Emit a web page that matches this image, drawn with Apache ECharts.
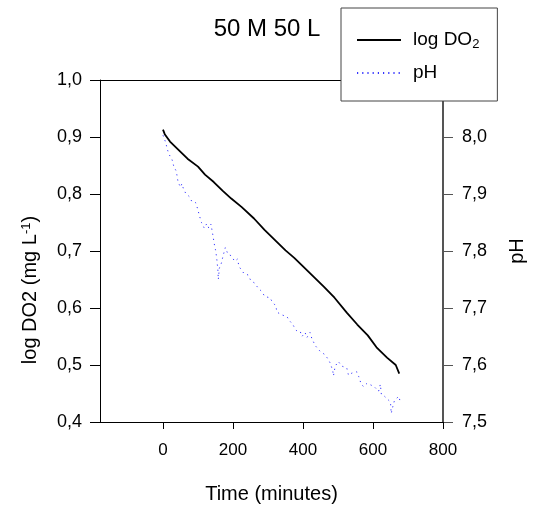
<!DOCTYPE html>
<html><head><meta charset="utf-8">
<script src="https://cdn.jsdelivr.net/npm/echarts@6/dist/echarts.min.js"></script>
<style>html,body{margin:0;padding:0;background:#fff}#c{width:536px;height:510px}</style>
</head><body><div id="c"></div>
<script>
const chartTitle = '50 M 50 L';
const xTicks = [0, 200, 400, 600, 800];
const doTime = [0,5,20,45,70,100,120,145,170,195,225,260,290,320,350,375,400,430,460,490,525,555,585,610,640,665,675];
const doValues = [0.913,0.905,0.892,0.877,0.862,0.848,0.834,0.821,0.806,0.792,0.777,0.757,0.737,0.719,0.701,0.688,0.673,0.655,0.637,0.618,0.592,0.571,0.552,0.531,0.513,0.500,0.485];
const phTime = [0,8,12,17,26,31,38,43,50,54,58,65,76,83,93,99,104,110,118,125,131,137,143,146,150,153,155,157,158,161,167,171,175,178,186,194,205,213,217,225,232,243,251,261,272,282,291,306,311,323,325,339,354,361,371,377,382,392,397,406,411,420,425,435,449,463,473,478,485,487,492,501,511,525,530,540,554,559,566,573,583,597,605,616,621,624,633,640,650,652,657,661,673,678];
const phValues = [8.003,7.990,7.979,7.970,7.960,7.948,7.940,7.921,7.912,7.918,7.910,7.901,7.895,7.886,7.885,7.874,7.862,7.850,7.840,7.848,7.840,7.847,7.826,7.814,7.802,7.790,7.778,7.765,7.750,7.770,7.779,7.790,7.799,7.806,7.794,7.792,7.782,7.786,7.773,7.766,7.760,7.758,7.748,7.744,7.735,7.729,7.720,7.718,7.712,7.703,7.693,7.688,7.685,7.678,7.671,7.664,7.660,7.659,7.650,7.657,7.648,7.657,7.647,7.634,7.624,7.618,7.609,7.603,7.590,7.581,7.598,7.606,7.598,7.595,7.582,7.586,7.588,7.580,7.567,7.562,7.568,7.564,7.561,7.554,7.566,7.548,7.545,7.541,7.535,7.515,7.528,7.537,7.545,7.536];

const FONT = 'Liberation Sans, Arial, sans-serif';
const comma = v => v.toFixed(1).replace('.', ',');
const chart = echarts.init(document.getElementById('c'), null, {renderer: 'canvas'});
chart.setOption({
  animation: false,
  backgroundColor: '#fff',
  title: {
    text: chartTitle, left: 262, top: 12, textAlign: 'center',
    textStyle: {fontFamily: FONT, fontSize: 24, fontWeight: 'normal', color: '#000'}
  },
  legend: {
    orient: 'vertical', left: 341, top: 8,
    padding: [21, 18, 17, 15],
    itemWidth: 44, itemHeight: 20, itemGap: 11,
    backgroundColor: '#fff', borderColor: '#444', borderWidth: 1,
    itemStyle: {opacity: 0},
    data: ['log DO2', 'pH'],
    formatter: n => n === 'log DO2' ? 'log DO{sub|2}' : n,
    textStyle: {
      fontFamily: FONT, fontSize: 19, color: '#000', padding: [0, 0, 0, 7], lineHeight: 22,
      rich: {sub: {fontFamily: FONT, fontSize: 13, lineHeight: 13, verticalAlign: 'bottom', padding: [8, 0, 0, 0]}}
    }
  },
  grid: {left: 100, right: 93, top: 80, bottom: 88, containLabel: false},
  xAxis: [{
    type: 'value', min: -180, max: 800, position: 'bottom',
    name: 'Time (minutes)', nameLocation: 'middle', nameGap: 62,
    nameTextStyle: {fontFamily: FONT, fontSize: 20, color: '#000'},
    axisLine: {show: true, onZero: false, lineStyle: {color: '#000', width: 1}},
    axisTick: {show: true, inside: false, length: 7, customValues: xTicks, lineStyle: {color: '#000'}},
    axisLabel: {customValues: xTicks, margin: 20, fontFamily: FONT, fontSize: 17, color: '#000'},
    splitLine: {show: false}
  }, {
    type: 'value', min: -180, max: 800, position: 'top',
    axisLine: {show: true, onZero: false, lineStyle: {color: '#000', width: 1}},
    axisTick: {show: false}, axisLabel: {show: false}, splitLine: {show: false}
  }],
  yAxis: [{
    type: 'value', min: 0.4, max: 1.0, interval: 0.1, position: 'left',
    axisLine: {show: true, onZero: false, lineStyle: {color: '#000', width: 1}},
    axisTick: {show: true, length: 10, lineStyle: {color: '#000'}},
    axisLabel: {formatter: comma, margin: 18, fontFamily: FONT, fontSize: 18, color: '#000'},
    splitLine: {show: false}
  }, {
    type: 'value', min: 7.5, max: 8.1, interval: 0.1, position: 'right',
    name: 'pH', nameLocation: 'middle', nameGap: 64, nameRotate: 90,
    nameTextStyle: {fontFamily: FONT, fontSize: 20, color: '#000'},
    axisLine: {show: true, onZero: false, lineStyle: {color: '#555', width: 2}},
    axisTick: {show: true, length: 10, lineStyle: {color: '#555'}},
    axisLabel: {formatter: comma, margin: 19, fontFamily: FONT, fontSize: 18, color: '#000'},
    splitLine: {show: false}
  }],
  graphic: [{
    type: 'text', x: 30, y: 290, rotation: Math.PI / 2,
    style: {
      text: 'log DO2 (mg L{sup|-1})',
      fontFamily: FONT, fontSize: 20, fill: '#000', align: 'center', verticalAlign: 'middle',
      rich: {sup: {fontFamily: FONT, fontSize: 13, verticalAlign: 'top', padding: [0, 0, 8, 0]}}
    }
  }],
  series: [{
    name: 'log DO2', type: 'line', xAxisIndex: 0, yAxisIndex: 0,
    showSymbol: false, symbol: 'none',
    lineStyle: {color: '#000', width: 1.8},
    itemStyle: {color: '#000'},
    data: doTime.map((t, i) => [t, doValues[i]])
  }, {
    name: 'pH', type: 'line', xAxisIndex: 0, yAxisIndex: 1,
    showSymbol: false, symbol: 'none',
    lineStyle: {color: '#3535ff', width: 1, type: [1.2, 4]},
    itemStyle: {color: '#3535ff'},
    data: phTime.map((t, i) => [t, phValues[i]])
  }]
});
</script></body></html>
